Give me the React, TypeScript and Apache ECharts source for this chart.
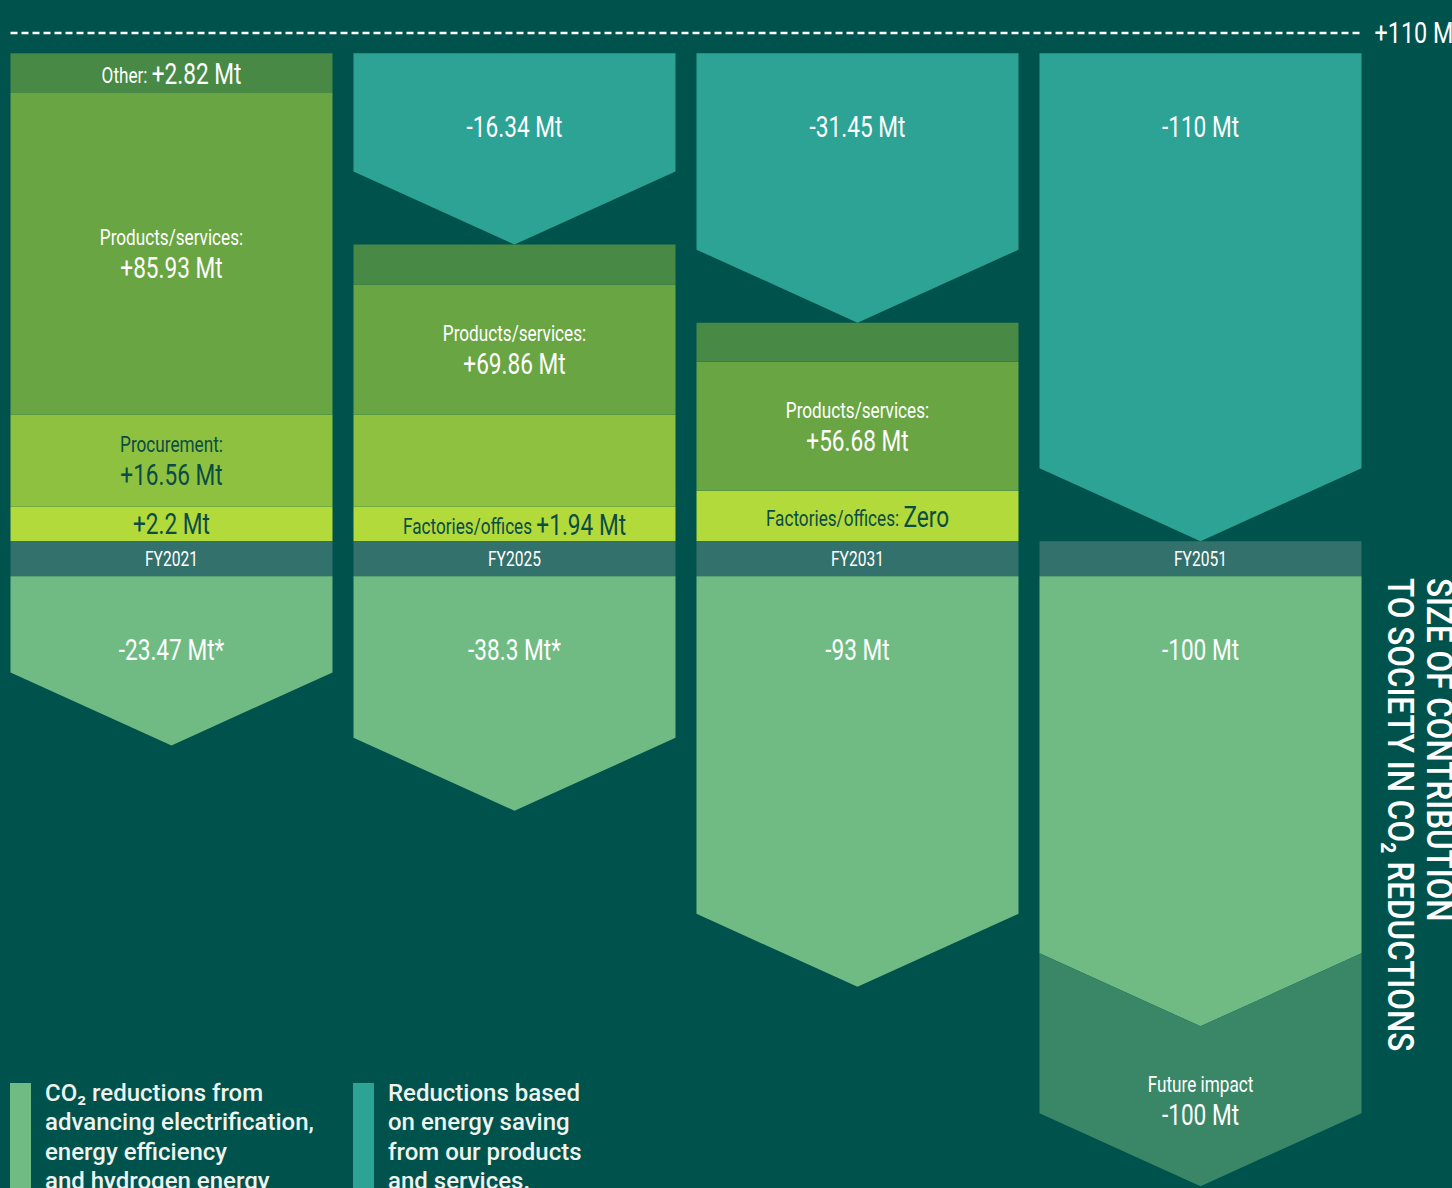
import React, { useEffect, useRef } from "react";
import * as echarts from "echarts";

// ---------- data ----------
const years = ["FY2021", "FY2025", "FY2031", "FY2051"];

// values printed in the chart (Mt CO2)
const otherMt = [2.82, null, null, null];
const productsMt = [85.93, 69.86, 56.68, null];
const procurementMt = [16.56, null, null, null];
const factoriesMt = [2.2, 1.94, 0, null];
const savingMt = [null, -16.34, -31.45, -110];
const electrificationMt = [-23.47, -38.3, -93, -100];
const electrificationNote = ["*", "*", "", ""];
const futureImpactMt = [null, null, null, -100];
const ceilingMt = 110;

// extents as drawn on the chart's (schematic) value axis
const factoriesH = [7.5, 7.5, 10.9, 0];
const procurementH = [19.95, 19.95, 0, 0];
const productsH = [69.55, 28.1, 27.95, 0];
const otherH = [8.6, 8.65, 8.45, 0];
const yearBandH = [-7.6, -7.6, -7.6, -7.6];
const savingTop = [null, 105.6, 105.6, 105.6];
const savingTip = [null, 64.2, 47.3, 0];
const electrificationTip = [-44.2, -58.35, -96.45, -105.0];
const futureTip = [null, null, null, -139.6];

// ---------- styles ----------
const FF = "Roboto, 'Noto Sans', sans-serif";
const SX = 0.78; // horizontal squeeze for condensed look
const BG = "#00524C";
const C_TEAL = "#2DA396";
const C_OTHER = "#478945";
const C_PRODUCTS = "#69A542";
const C_PROCURE = "#8EC13F";
const C_FACTORY = "#B2DA3A";
const C_BAND = "#32716C";
const C_ELEC = "#70BB83";
const C_FUTURE = "#398766";
const C_DARK = "#0B4C46";
const C_WHITE = "#FFFFFF";
const BAR_W = 322;
const DEPTH = 73;
const LABEL_OFFSET = 74;

const RICH: any = {
  ws: { fontFamily: FF, fontSize: 22, fill: C_WHITE, lineHeight: 29 },
  wb: { fontFamily: FF, fontSize: 29, fill: C_WHITE, lineHeight: 31 },
  ds: { fontFamily: FF, fontSize: 22, fill: C_DARK, lineHeight: 29 },
  db: { fontFamily: FF, fontSize: 29, fill: C_DARK, lineHeight: 31 },
  wsi: { fontFamily: FF, fontSize: 22, fill: C_WHITE, lineHeight: 31, verticalAlign: "bottom", padding: [0, 0, 2, 0] },
  dsi: { fontFamily: FF, fontSize: 22, fill: C_DARK, lineHeight: 31, verticalAlign: "bottom", padding: [0, 0, 2, 0] },
  wbi: { fontFamily: FF, fontSize: 29, fill: C_WHITE, lineHeight: 31, verticalAlign: "bottom" },
  dbi: { fontFamily: FF, fontSize: 29, fill: C_DARK, lineHeight: 31, verticalAlign: "bottom" },
  yr: { fontFamily: FF, fontSize: 20, fill: C_WHITE },
};

const fmtPlus = (v: number) => "+" + v + " Mt";

function labelEl(x: number, y: number, text: string) {
  return {
    type: "text",
    x,
    y,
    scaleX: SX,
    style: { text, rich: RICH, align: "center", verticalAlign: "middle" },
  };
}

// stacked rectangular segments: rows [categoryIndex, start, end]
function segmentSeries(name: string, heights: number[], bases: number[], color: string, labelFor: (i: number) => string | null) {
  const rows = heights.map((h, i) => [i, bases[i], bases[i] + h]).filter((r) => r[2] !== r[1]);
  return {
    type: "custom",
    name,
    silent: true,
    data: rows,
    renderItem: (params: any, api: any) => {
      const i = api.value(0);
      const p0 = api.coord([i, api.value(1)]);
      const p1 = api.coord([i, api.value(2)]);
      const yTop = Math.min(p0[1], p1[1]);
      const yBot = Math.max(p0[1], p1[1]);
      const children: any[] = [
        { type: "rect", shape: { x: p0[0] - BAR_W / 2, y: yTop, width: BAR_W, height: yBot - yTop }, style: { fill: color } },
      ];
      const txt = labelFor(i);
      if (txt) children.push(labelEl(p0[0], (yTop + yBot) / 2, txt));
      return { type: "group", children };
    },
  };
}

// chevron shapes: rows [categoryIndex, top, tip, notchedTop]
function chevronSeries(name: string, rows: number[][], color: string, labelFor: (i: number) => string) {
  return {
    type: "custom",
    name,
    silent: true,
    data: rows,
    renderItem: (params: any, api: any) => {
      const i = api.value(0);
      const top = api.value(1);
      const tip = api.value(2);
      const notched = api.value(3);
      const half = BAR_W / 2;
      const pTop = api.coord([i, top]);
      const cx = pTop[0];
      const yTop = pTop[1];
      const yTip = api.coord([i, tip])[1];
      const ySide = yTip - DEPTH;
      const points = notched
        ? [[cx - half, yTop - DEPTH], [cx, yTop], [cx + half, yTop - DEPTH], [cx + half, ySide], [cx, yTip], [cx - half, ySide]]
        : [[cx - half, yTop], [cx + half, yTop], [cx + half, ySide], [cx, yTip], [cx - half, ySide]];
      return {
        type: "group",
        children: [
          { type: "polygon", shape: { points }, style: { fill: color } },
          labelEl(cx, yTop + LABEL_OFFSET, labelFor(i)),
        ],
      };
    },
  };
}

const zeros = years.map(() => 0);
const baseProcure = factoriesH.map((h, i) => h);
const baseProducts = procurementH.map((h, i) => baseProcure[i] + h);
const baseOther = productsH.map((h, i) => baseProducts[i] + h);

const savingRows = years
  .map((_, i) => (savingTip[i] == null ? null : [i, savingTop[i] as number, savingTip[i] as number, 0]))
  .filter(Boolean) as number[][];
const elecRows = years.map((_, i) => [i, yearBandH[i], electrificationTip[i], 0]);
const futureRows = years
  .map((_, i) => (futureTip[i] == null ? null : [i, electrificationTip[i], futureTip[i] as number, 1]))
  .filter(Boolean) as number[][];

export default function App() {
  const ref = useRef<HTMLDivElement>(null);
  useEffect(() => {
    if (!ref.current) return;
    const chart = echarts.init(ref.current, undefined, { renderer: "svg" });
    const option: any = {
      animation: false,
      backgroundColor: BG,
      grid: { left: 0, top: 33, width: 1372, height: 1157 },
      xAxis: { type: "category", data: years, show: false },
      yAxis: { type: "value", min: -140, max: 110, show: false, splitLine: { show: false } },
      series: [
        segmentSeries("Factories/offices", factoriesH, zeros, C_FACTORY, (i) => {
          const v = factoriesMt[i];
          if (v == null) return null;
          if (i === 0) return "{db|" + fmtPlus(v) + "}";
          if (v === 0) return "{dsi|Factories/offices: }{dbi|Zero}";
          return "{dsi|Factories/offices }{dbi|" + fmtPlus(v) + "}";
        }),
        segmentSeries("Procurement", procurementH, baseProcure, C_PROCURE, (i) =>
          procurementMt[i] == null ? null : "{ds|Procurement:}\n{db|" + fmtPlus(procurementMt[i] as number) + "}"
        ),
        segmentSeries("Products/services", productsH, baseProducts, C_PRODUCTS, (i) =>
          productsMt[i] == null ? null : "{ws|Products/services:}\n{wb|" + fmtPlus(productsMt[i] as number) + "}"
        ),
        segmentSeries("Other", otherH, baseOther, C_OTHER, (i) =>
          otherMt[i] == null ? null : "{wsi|Other: }{wbi|" + fmtPlus(otherMt[i] as number) + "}"
        ),
        segmentSeries("Year", yearBandH, zeros, C_BAND, (i) => "{yr|" + years[i] + "}"),
        chevronSeries("Energy saving", savingRows, C_TEAL, (i) => "{wb|" + savingMt[i] + " Mt}"),
        chevronSeries("Electrification", elecRows, C_ELEC, (i) => "{wb|" + electrificationMt[i] + " Mt" + electrificationNote[i] + "}"),
        chevronSeries("Future impact", futureRows, C_FUTURE, (i) => "{ws|Future impact}\n{wb|" + futureImpactMt[i] + " Mt}"),
        {
          type: "custom",
          name: "Ceiling",
          silent: true,
          data: [[0, ceilingMt, years.length - 1]],
          renderItem: (params: any, api: any) => {
            const p0 = api.coord([api.value(0), api.value(1)]);
            const p1 = api.coord([api.value(2), api.value(1)]);
            const x0 = p0[0] - BAR_W / 2;
            const x1 = p1[0] + BAR_W / 2;
            return {
              type: "group",
              children: [
                {
                  type: "line",
                  shape: { x1: x0, y1: p0[1], x2: x1, y2: p0[1] },
                  style: { stroke: C_WHITE, lineWidth: 2.5, lineDash: [7, 4] },
                },
                {
                  type: "text",
                  x: x1 + 13,
                  y: p0[1],
                  scaleX: SX,
                  style: { text: "+" + api.value(1) + " Mt", fontFamily: FF, fontSize: 30, fill: C_WHITE, align: "left", verticalAlign: "middle" },
                },
              ],
            };
          },
        },
      ],
      graphic: [
        { type: "rect", shape: { x: 10, y: 1083, width: 21, height: 110 }, style: { fill: C_ELEC } },
        {
          type: "text",
          x: 45,
          y: 1078,
          style: {
            text: "CO₂ reductions from\nadvancing electrification,\nenergy efficiency\nand hydrogen energy",
            fontFamily: FF,
            fontSize: 24,
            fontWeight: 500,
            lineHeight: 29.5,
            fill: "#EEF3EE",
            align: "left",
            verticalAlign: "top",
          },
        },
        { type: "rect", shape: { x: 353, y: 1083, width: 21, height: 110 }, style: { fill: C_TEAL } },
        {
          type: "text",
          x: 388,
          y: 1078,
          style: {
            text: "Reductions based\non energy saving\nfrom our products\nand services.",
            fontFamily: FF,
            fontSize: 24,
            fontWeight: 500,
            lineHeight: 29.5,
            fill: "#EEF3EE",
            align: "left",
            verticalAlign: "top",
          },
        },
        {
          type: "text",
          x: 1420,
          y: 578,
          rotation: -Math.PI / 2,
          scaleX: 0.85,
          style: {
            text: "SIZE OF CONTRIBUTION\nTO SOCIETY IN CO₂ REDUCTIONS",
            fontFamily: FF,
            fontSize: 37,
            fontWeight: 500,
            lineHeight: 39,
            fill: C_WHITE,
            align: "left",
            verticalAlign: "middle",
          },
        },
      ],
    };
    chart.setOption(option);
    return () => chart.dispose();
  }, []);
  return <div ref={ref} style={{ position: "absolute", left: 0, top: 0, width: 1452, height: 1188 }} />;
}
